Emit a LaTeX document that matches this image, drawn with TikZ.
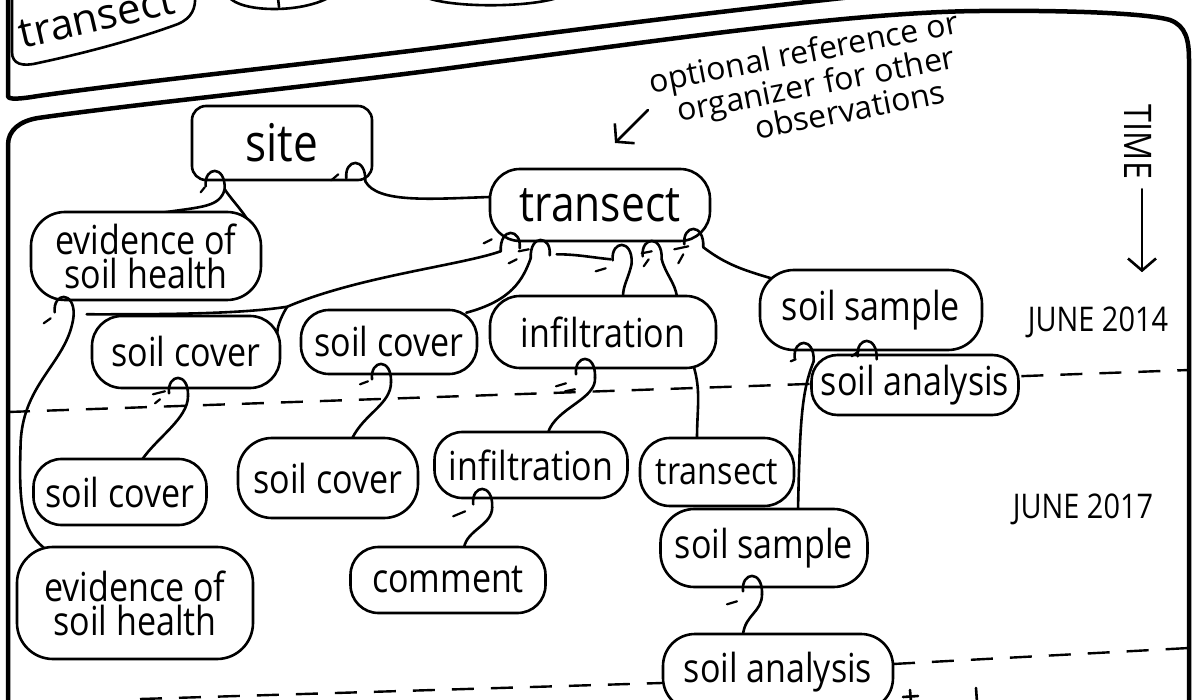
\documentclass[tikz,border=0pt]{standalone}
\usepackage{fontspec}
\newfontfamily\hand[FakeStretch=0.85]{Open Sans}
\newfontfamily\handw{Open Sans}
\usetikzlibrary{calc,arrows.meta,backgrounds}
\newcommand\hkR[1]{\draw[conn] ($(#1)+(-19,-3)$) .. controls ($(#1)+(-21,-23)$) and ($(#1)+(1,-25)$) .. (#1);}
\newcommand\hkL[1]{\draw[conn] ($(#1)+(19,-3)$) .. controls ($(#1)+(21,-23)$) and ($(#1)+(-1,-25)$) .. (#1);}
\tikzset{
  ink/.style={line width=2.6pt, line cap=round, line join=round},
  conn/.style={ink},
  bub/.style={ink, draw, fill=white, rounded corners=#1, inner sep=2pt, align=center,
    font=\hand\fontsize{40}{34}\selectfont},
  bub/.default=28pt,
  tick/.style={line width=2.2pt, line cap=round},
  frame/.style={line width=4.5pt, line cap=round, line join=round},
  timeline/.style={line width=2.4pt, dash pattern=on 22pt off 17pt},
  note/.style={font=\handw\fontsize{32}{32}\selectfont, inner sep=0pt},
  lbl/.style={font=\hand\fontsize{34}{34}\selectfont, inner sep=0pt},
  barb/.style={ink, -{Straight Barb[length=12pt,width=28pt]}}
}
\begin{document}
\begin{tikzpicture}[x=1pt,y=-1pt]
\useasboundingbox (0,0) rectangle (1197,700);

% ---------- bubbles ----------
\node[bub=14pt, minimum width=180pt, minimum height=74pt, font=\hand\fontsize{52}{52}\selectfont] (site) at (282,143) {site};
\node[bub=30pt, minimum width=220pt, minimum height=72pt, font=\hand\fontsize{50}{50}\selectfont] (transT) at (600,205) {transect};
\node[bub=34pt, minimum width=230pt, minimum height=88pt] (evU) at (146,256) {evidence of\\soil health};
\node[bub=30pt, minimum width=188pt, minimum height=72pt] (scA) at (186,352) {soil cover};
\node[bub=28pt, minimum width=176pt, minimum height=64pt] (scB) at (389,342) {soil cover};
\node[bub=30pt, minimum width=226pt, minimum height=72pt] (infA) at (603,332) {infiltration};
\node[bub=34pt, minimum width=222pt, minimum height=80pt] (ssA) at (871,310) {soil sample};
\node[bub=26pt, minimum width=207pt, minimum height=60pt] (saA) at (915,385) {soil analysis};
\node[bub=28pt, minimum width=173pt, minimum height=66pt] (scC) at (120,492) {soil cover};
\node[bub=34pt, minimum width=180pt, minimum height=80pt] (scD) at (328,478) {soil cover};
\node[bub=28pt, minimum width=193pt, minimum height=66pt] (infB) at (531,465) {infiltration};
\node[bub=30pt, minimum width=154pt, minimum height=68pt, font=\hand\fontsize{38}{38}\selectfont] (trB) at (717,472) {transect};
\node[bub=36pt, minimum width=236pt, minimum height=112pt] (evL) at (135,603) {evidence of\\soil health};
\node[bub=28pt, minimum width=195pt, minimum height=66pt] (com) at (448,580) {comment};
\node[bub=34pt, minimum width=207pt, minimum height=78pt] (ssB) at (764,548) {soil sample};
\node[bub=32pt, minimum width=230pt, minimum height=76pt] (saB) at (778,672) {soil analysis};

% ---------- hook points ----------
\coordinate (hS1) at ($(site.south west)+(34,8)$);
\coordinate (hS2) at ($(site.south east)+(-8,0)$);
\coordinate (hT1) at ($(transT.south west)+(12,9)$);
\coordinate (hT2) at ($(transT.south west)+(42,16)$);
\coordinate (hT3) at ($(transT.south west)+(143,21)$);
\coordinate (hT4) at ($(transT.south west)+(173,17)$);
\coordinate (hT5) at ($(transT.south east)+(-8,5)$);
\coordinate (hE)  at ($(evU.south west)+(44,14)$);
\coordinate (hE2) at ($(evU.south west)+(57,13)$);
\coordinate (jA)  at ($(scA.north east)+(6,-8)$);
\coordinate (jE)  at ($(evU.south west)+(-9,140)$);
\coordinate (hA)  at ($(scA.south)+(2,7)$);
\coordinate (hB)  at ($(scB.south)+(2,7)$);
\coordinate (hI1) at ($(infA.south)+(-8,8)$);
\coordinate (hI2) at ($(infB.south west)+(59,8)$);
\coordinate (hSS1) at ($(ssA.south west)+(55,10)$);
\coordinate (hSS2) at ($(ssA.south west)+(118,8)$);
\coordinate (hSS3) at ($(ssB.south)+(-2,6)$);

\begin{scope}[on background layer]
  % frames
  \draw[frame] (8,-5) -- (8,96) .. controls (8,100) and (20,99) .. (38,96)
     .. controls (150,80) and (330,62) .. (480,42) .. controls (650,20) and (800,2) .. (900,-8);
  \draw[frame] (8,705) -- (8,145) .. controls (8,130) and (20,121) .. (38,118)
     .. controls (150,102) and (330,85) .. (480,64) .. controls (650,42) and (850,12) .. (980,11)
     .. controls (1080,10) and (1150,14) .. (1170,20) .. controls (1186,26) and (1189,40) .. (1189,60) -- (1189,705);
  % time lines
  \draw[timeline] (8,412) -- (780,385) -- (1189,370);
  \draw[timeline] (140,699) -- (662,683);
  \draw[timeline] (893,664) -- (1189,648);
  % connectors
  \draw[conn] (hS1) .. controls +(-5,18) and +(40,-6) .. ($(evU.north)+(16,2)$);
  \draw[conn] (hS1) .. controls +(10,15) and +(-5,-18) .. ($(evU.north east)+(-8,24)$);
  \draw[conn] (hS2) .. controls +(12,22) and +(-60,2) .. ($(transT.west)+(1,-8)$);
  \draw[conn] (hT1) .. controls +(-40,14) and +(70,-30) .. (jA) .. controls +(-50,8) and +(60,0) .. (hE2);
  \draw[conn] (jA) .. controls +(-4,6) and +(0,-8) .. ($(scA.north east)+(-4,18)$);
  \draw[conn] (hE) .. controls +(-5,46) and +(3,-60) .. (jE) .. controls +(-2,60) and +(-23,-19) .. ($(evL.north west)+(28,2)$);
  \draw[conn] (hT2) .. controls +(-8,22) and +(45,-12) .. ($(scB.north east)+(-12,4)$);
  \draw[conn] ($(hT2)+(26,-4)$) .. controls +(20,0) and +(-20,-2) .. ($(hT3)+(-21,-4)$);
  \draw[conn] (hT3) .. controls +(-3,15) and +(0,-12) .. ($(infA.north)+(20,2)$);
  \draw[conn] (hT4) .. controls +(4,15) and +(-2,-14) .. ($(infA.north)+(74,2)$);
  \draw[conn] (hT5) .. controls +(20,15) and +(-35,-10) .. ($(ssA.north west)+(14,10)$);
  \draw[conn] (hI1) .. controls +(2,22) and +(8,-25) .. ($(infB.north)+(17,2)$);
  \draw[conn] ($(infA.south east)+(-24,-4)$) .. controls +(8,25) and +(0,-30) .. ($(trB.north)+(-20,2)$);
  \draw[conn] (hSS1) .. controls +(-12,30) and +(2,-90) .. ($(ssB.north)+(34,2)$);
  \draw[conn] (hA) .. controls +(0,22) and +(15,-22) .. ($(scC.north)+(22,2)$);
  \draw[conn] (hB) .. controls +(0,22) and +(12,-25) .. ($(scD.north)+(24,2)$);
  \draw[conn] (hI2) .. controls +(0,18) and +(3,-18) .. ($(com.north)+(16,2)$);
  \draw[conn] (hSS3) .. controls +(0,18) and +(2,-20) .. ($(saB.north)+(-35,2)$);
\end{scope}

% ---------- hooks ----------
\hkR{hS1} \hkR{hS2}
\hkL{hT1} \hkL{hT2} \hkR{hT3} \hkR{hT4} \hkR{hT5}
\hkR{hE} \hkR{hA} \hkR{hB} \hkR{hI1} \hkR{hI2}
\hkR{hSS1} \hkR{hSS2} \hkR{hSS3}

% ---------- stitch ticks ----------
\draw[tick] ($(hS1)+(-24,3)$) -- ++(4,-5);
\draw[tick] ($(hS2)+(-34,-1)$) -- ++(7,-6);
\draw[tick] ($(hT1)+(-17,-8)$) -- ++(8,-4);
\draw[tick] ($(hT1)+(8,12)$) -- ++(8,-4);
\draw[tick] ($(hT2)+(-12,-7)$) -- ++(10,-2);
\draw[tick] ($(hT3)+(-36,8)$) -- ++(10,-3);
\draw[tick] ($(hT4)+(-20,-6)$) -- ++(10,-2);
\draw[tick] ($(hT4)+(-18,7)$) -- ++(5,-7);
\draw[tick] ($(hT5)+(-29,2)$) -- ++(14,-3);
\draw[tick] ($(hT5)+(-25,16)$) -- ++(5,-9);
\draw[tick] ($(hA)+(-35,-2)$) -- ++(12,-3);
\draw[tick] ($(hA)+(-33,7)$) -- ++(5,-4);
\draw[tick] ($(hE)+(-30,8)$) -- ++(7,-5);
\draw[tick] ($(hB)+(-31,2)$) -- ++(8,-3);
\draw[tick] ($(hI1)+(-39,9)$) -- ++(10,-3);
\draw[tick] ($(hI1)+(-30,14)$) -- ++(10,-2);
\draw[tick] ($(hI2)+(-39,9)$) -- ++(12,-5);
\draw[tick] ($(hSS3)+(-35,10)$) -- ++(10,-3);
\draw[tick] ($(hSS1)+(-23,0)$) -- ++(5,-2);
\draw[tick] ($(hSS2)+(-25,-3)$) -- ++(7,-5);

% ---------- top panel (cut off by the page edge) ----------
\draw[ink] (12,-5) -- (12,52) .. controls (12,64) and (22,67) .. (38,63)
   .. controls (90,52) and (140,38) .. (178,24) .. controls (192,18) and (196,8) .. (195,-5);
\node[rotate=13, anchor=base, inner sep=0pt, font=\handw\fontsize{42}{42}\selectfont] (topTr) at (100,31) {transect};
\draw[ink] (229,-3) .. controls (240,12) and (300,14) .. (330,-3);
\draw[ink] (278,-2) -- (279,7);
\draw[ink] (425,-3) .. controls (450,8) and (530,8) .. (560,-3);

% ---------- bottom cut-off strokes ----------
\draw[ink] (910,690) -- (911,702);
\draw[ink] (903,697) -- (918,696);
\draw[ink] (976,688) -- (977,702);

% ---------- annotation ----------
\node[note, rotate=11, anchor=base] (n1) at (806,63) {optional reference or};
\node[note, rotate=11, anchor=base] (n2) at (818,95) {organizer for other};
\node[note, rotate=11, anchor=base] (n3) at (852,121) {observations};
\coordinate (arS) at (648,110);
\coordinate (arE) at (615,143);
\draw[barb] (arS) -- (arE);

% ---------- time axis ----------
\node[rotate=-90, inner sep=0pt, font=\hand\fontsize{38}{38}\selectfont] (time) at (1138,142) {TIME};
\draw[barb] ($(time.east)+(4,10)$) -- ($(time.east)+(4,93)$);
\node[lbl] (j14) at (1098,322) {JUNE 2014};
\node[lbl] (j17) at (1083,509) {JUNE 2017};
\end{tikzpicture}
\end{document}
